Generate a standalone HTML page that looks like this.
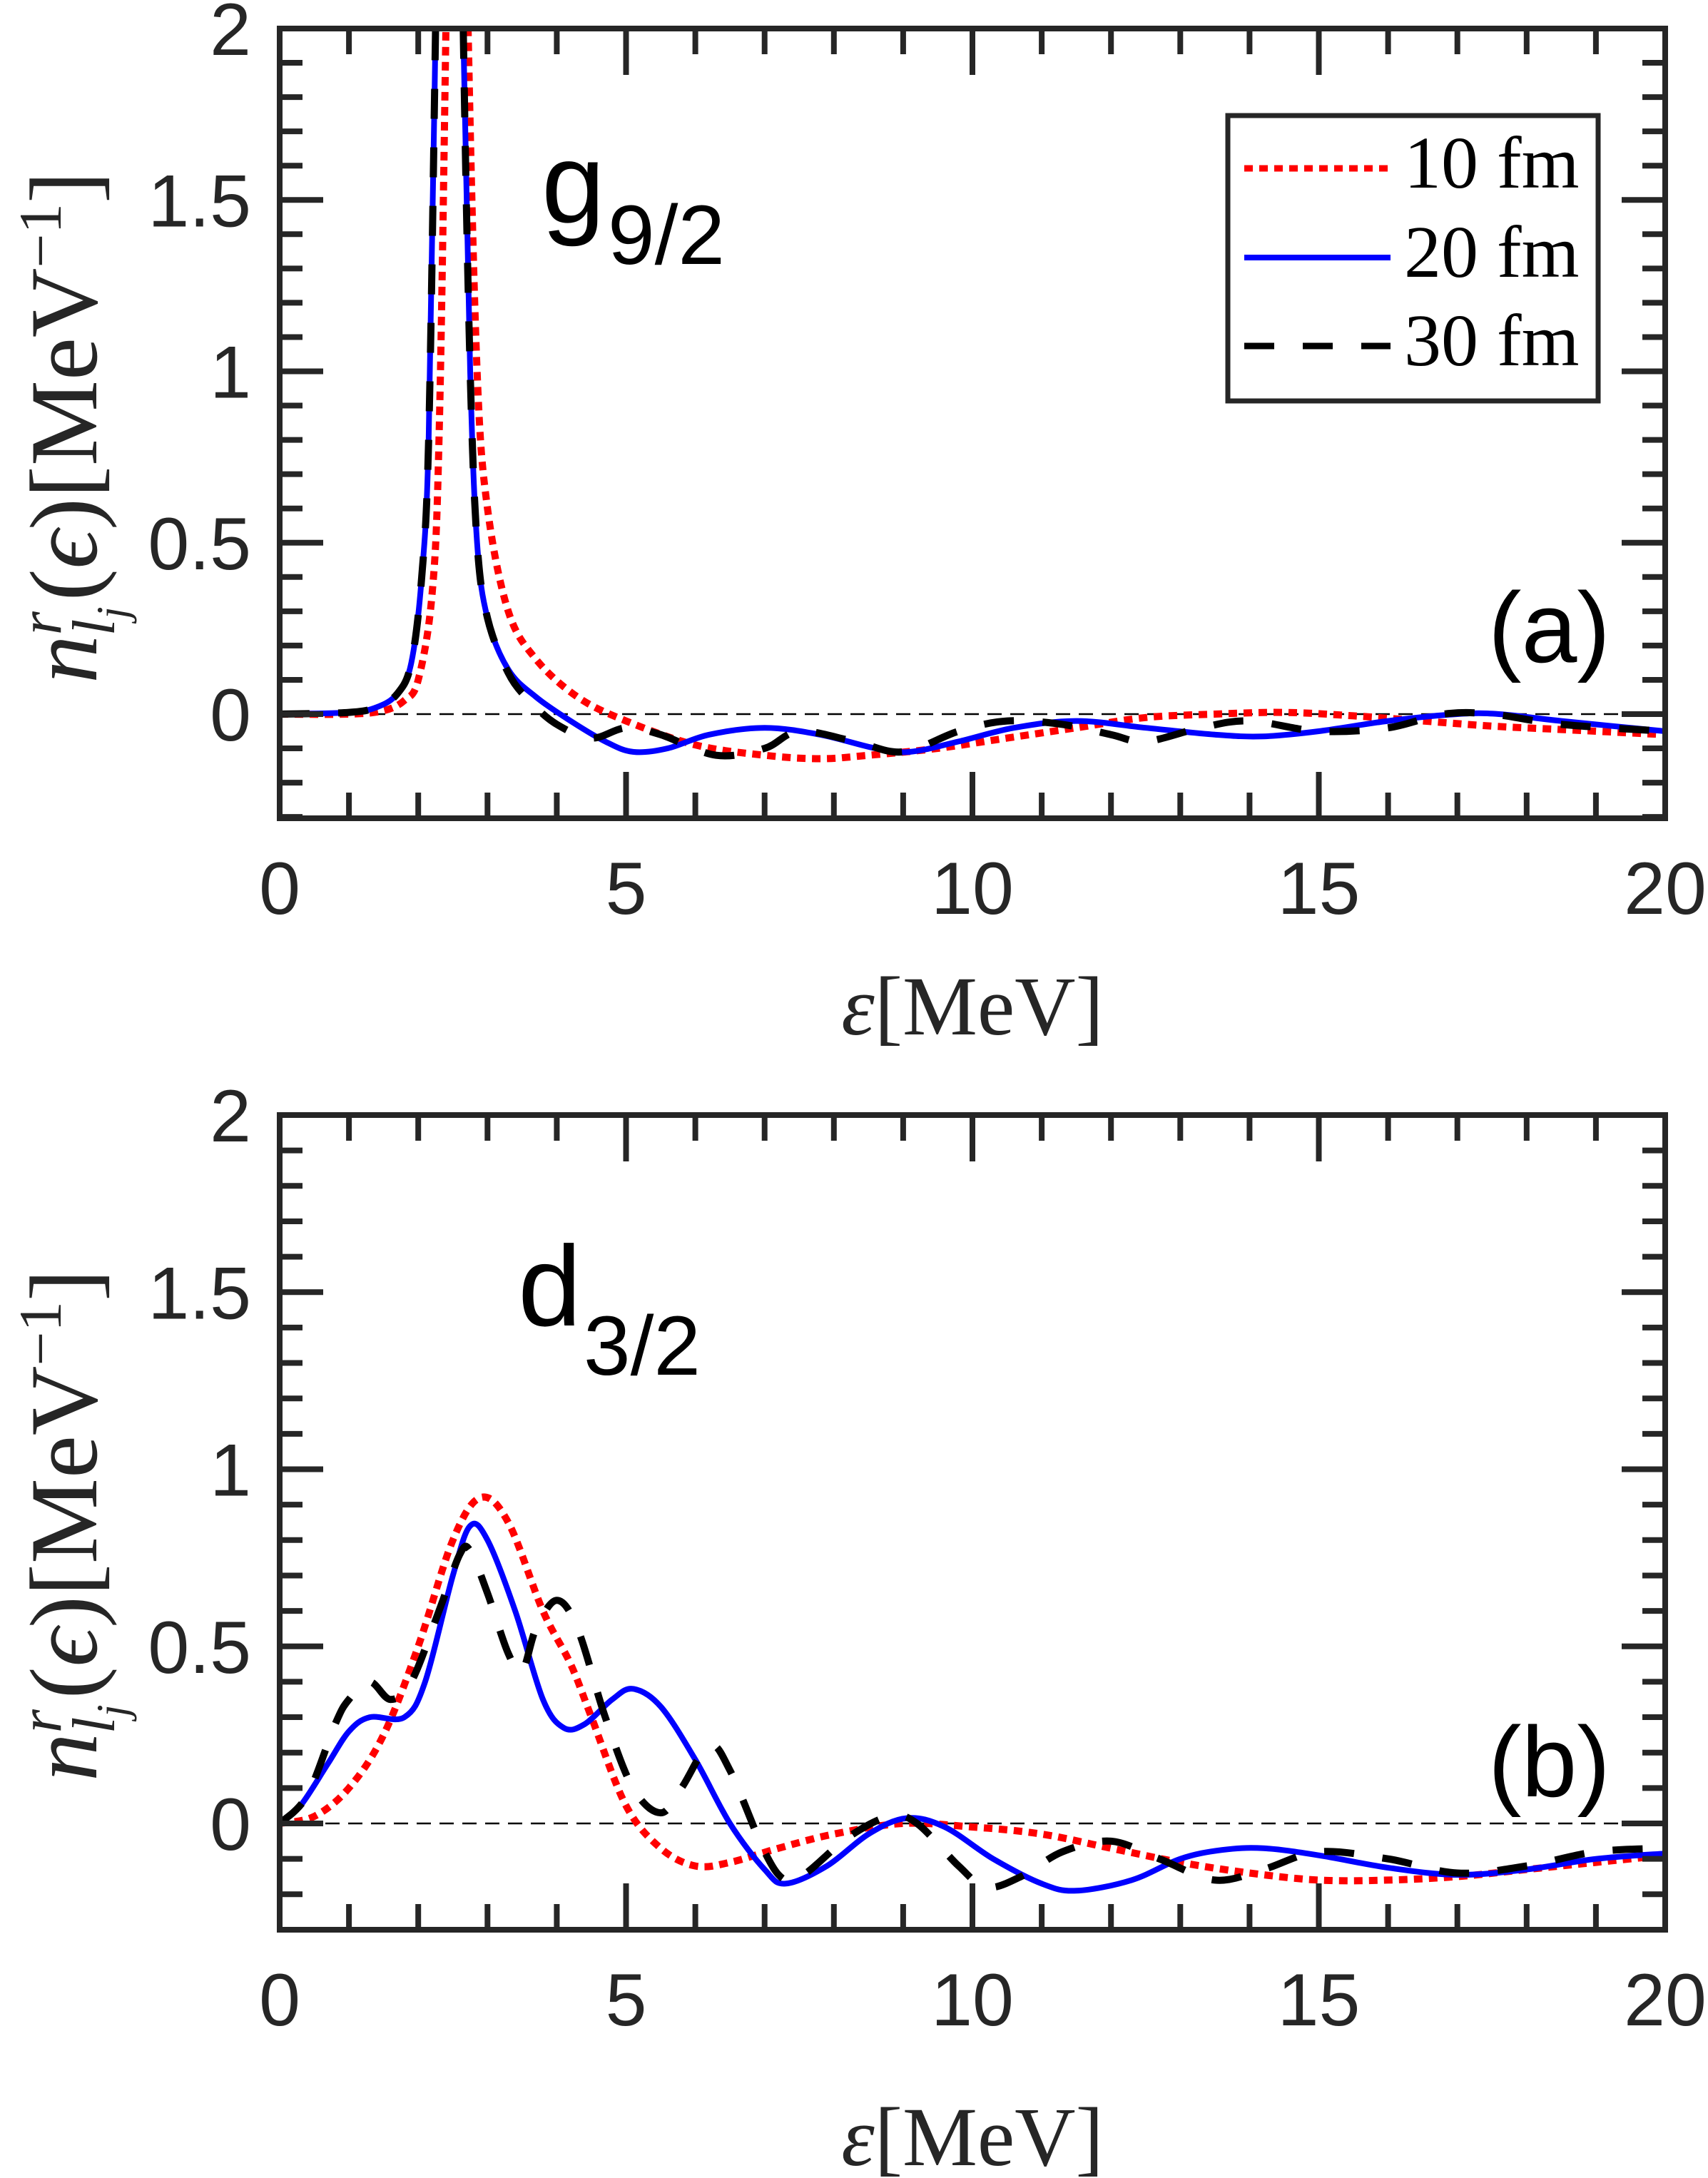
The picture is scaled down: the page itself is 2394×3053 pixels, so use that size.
<!DOCTYPE html>
<html><head><meta charset="utf-8"><style>
html,body{margin:0;padding:0;background:#fff;}
svg{display:block;}
.tk{font-family:"Liberation Sans",Arial,sans-serif;fill:#262626;}
.sr{font-family:"Liberation Serif","DejaVu Serif",serif;fill:#262626;}
</style></head><body>
<svg id="s" width="2394" height="3053" viewBox="0 0 2394 3053" xmlns="http://www.w3.org/2000/svg">
<defs>
<clipPath id="ca"><rect x="392" y="40" width="1942" height="1107"/></clipPath>
<clipPath id="cb"><rect x="392" y="1563" width="1942" height="1142"/></clipPath>
</defs>
<g id="g"></g>
<text class="tk" x="759" y="312" style="font-size:160px;fill:#000">g</text>
<text class="tk" x="852" y="370" style="font-size:118px;fill:#000">9/2</text>
<text class="tk" x="2257" y="928" text-anchor="end" style="font-size:140px;fill:#000">(a)</text>
<text class="tk" x="726" y="1858" style="font-size:160px;fill:#000">d</text>
<text class="tk" x="818" y="1927" style="font-size:118px;fill:#000">3/2</text>
<text class="tk" x="2257" y="2518" text-anchor="end" style="font-size:140px;fill:#000">(b)</text>
<rect x="1721" y="162" width="519" height="400" fill="#fff" stroke="#262626" stroke-width="7"/>
<line x1="1744" y1="236" x2="1949" y2="236" stroke="#f00" stroke-width="9" stroke-dasharray="12,9"/>
<line x1="1744" y1="361" x2="1949" y2="361" stroke="#00f" stroke-width="8"/>
<line x1="1744" y1="485" x2="1949" y2="485" stroke="#000" stroke-width="9" stroke-dasharray="42,40"/>
<text class="sr" x="1968" y="263" style="font-size:104px;fill:#000">10 fm</text>
<text class="sr" x="1968" y="388" style="font-size:104px;fill:#000">20 fm</text>
<text class="sr" x="1968" y="512" style="font-size:104px;fill:#000">30 fm</text>
</svg>
<script>
var NS="http://www.w3.org/2000/svg",G=document.getElementById('g');
function el(t,a,p){var e=document.createElementNS(NS,t);for(var k in a)e.setAttribute(k,a[k]);(p||G).appendChild(e);return e;}
var X0=392,X1=2334;function px(x){return X0+(x)/20*(X1-X0);}
function panel(top,zero,bot,clip,series,lab){
  var unit=(zero-top)/2;function py(y){return zero-y*unit;}
  el('line',{x1:X0,y1:zero,x2:X1,y2:zero,stroke:'#000','stroke-width':2.5,'stroke-dasharray':'20,12'});
  var g=el('g',{'clip-path':'url(#'+clip+')'});
  series.forEach(function(s){
    var pts=s.pts.map(function(q){return [px(q[0]),py(q[1])];});
    var d='M'+pts[0][0]+','+pts[0][1];
    for(var i=0;i<pts.length-1;i++){
      var p0=pts[i-1]||pts[i],p1=pts[i],p2=pts[i+1],p3=pts[i+2]||p2;
      var c1=[p1[0]+(p2[0]-p0[0])/6,p1[1]+(p2[1]-p0[1])/6],c2=[p2[0]-(p3[0]-p1[0])/6,p2[1]-(p3[1]-p1[1])/6];
      d+='C'+c1[0].toFixed(1)+','+c1[1].toFixed(1)+' '+c2[0].toFixed(1)+','+c2[1].toFixed(1)+' '+p2[0].toFixed(1)+','+p2[1].toFixed(1);
    }
    var a={d:d,fill:'none',stroke:s.c,'stroke-width':s.w,'stroke-linejoin':'round'};
    if(s.da)a['stroke-dasharray']=s.da;
    el('path',a,g);
  });
  el('rect',{x:X0,y:top,width:X1-X0,height:bot-top,fill:'none',stroke:'#262626','stroke-width':8});
  for(var i=0;i<=20;i++){var x=px(i),L=(i%5==0)?65:36;
    el('line',{x1:x,y1:bot,x2:x,y2:bot-L,stroke:'#262626','stroke-width':8});
    el('line',{x1:x,y1:top,x2:x,y2:top+L,stroke:'#262626','stroke-width':8});
    if(i%5==0){var t=el('text',{x:x,y:bot+134,'class':'tk','text-anchor':'middle',style:'font-size:104px'});t.textContent=i;}
  }
  for(var j=-3;j<=20;j++){var y=py(j/10),L=(j%5==0)?61:32;
    el('line',{x1:X0,y1:y,x2:X0+L,y2:y,stroke:'#262626','stroke-width':8});
    el('line',{x1:X1,y1:y,x2:X1-L,y2:y,stroke:'#262626','stroke-width':8});
    if(j>=0&&j%5==0){var t=el('text',{x:352,y:y+37,'class':'tk','text-anchor':'end',style:'font-size:104px'});t.textContent=(j==0?'0':(j%10==0?j/10:(j/10).toFixed(1)));}
  }
  var t=el('text',{x:px(10),y:lab.xl,'class':'sr','text-anchor':'middle',style:'font-size:118px'});
  t.innerHTML='<tspan font-style="italic">ε</tspan>[MeV]';
  var ty=el('text',{transform:'translate(135,'+lab.yc+') rotate(-90)','class':'sr','text-anchor':'middle',style:'font-size:135px'});
  ty.innerHTML='<tspan font-style="italic">n</tspan><tspan font-size="85" dy="-50" font-style="italic">r</tspan><tspan font-size="85" dy="75" dx="-34" font-style="italic">l</tspan><tspan font-size="62" dy="18" font-style="italic">j</tspan><tspan dy="-43" dx="8">(</tspan><tspan font-style="italic">ϵ</tspan><tspan>)[MeV</tspan><tspan font-size="85" dy="-50">−1</tspan><tspan dy="50">]</tspan>';
}
var A_blue=[[0,0],[1,0.005],[1.4,0.02],[1.7,0.06],[1.9,0.15],[2.05,0.4],[2.15,0.8],[2.25,2.0],[2.35,3.5],[2.45,4],[2.55,3.5],[2.65,2.0],[2.75,1.0],[2.85,0.5],[3.0,0.28],[3.3,0.13],[3.7,0.05],[4.2,-0.02],[4.7,-0.08],[5.1,-0.11],[5.6,-0.1],[6.2,-0.06],[7,-0.04],[7.8,-0.06],[8.6,-0.1],[9.1,-0.11],[9.8,-0.08],[10.6,-0.04],[11.5,-0.02],[12.5,-0.04],[13.5,-0.06],[14.2,-0.065],[15,-0.05],[16,-0.02],[17,0.0],[17.6,0.0],[18.5,-0.02],[20,-0.05]];
var A_red=[[0,0],[1,0.0],[1.5,0.01],[1.8,0.04],[2.0,0.1],[2.2,0.35],[2.3,0.8],[2.4,2],[2.5,3.5],[2.6,3.5],[2.72,2],[2.85,1.0],[3.0,0.6],[3.3,0.3],[3.7,0.16],[4.3,0.05],[5,-0.02],[6,-0.09],[7,-0.12],[7.8,-0.13],[8.5,-0.12],[9.5,-0.1],[10.5,-0.07],[11.5,-0.04],[12.5,-0.01],[13.5,0.0],[14.5,0.005],[15.5,-0.005],[16.5,-0.02],[17.5,-0.035],[18.5,-0.045],[20,-0.06]];
var A_blk=[[0,0],[1,0.005],[1.4,0.02],[1.7,0.06],[1.9,0.15],[2.05,0.4],[2.15,0.8],[2.25,2.0],[2.35,3.5],[2.45,4],[2.55,3.5],[2.65,2.0],[2.75,1.0],[2.85,0.5],[3.0,0.28],[3.3,0.12],[3.6,0.04],[4.0,-0.03],[4.5,-0.07],[5.0,-0.04],[5.5,-0.06],[6.3,-0.12],[7.0,-0.1],[7.5,-0.05],[8.3,-0.08],[9.0,-0.11],[9.8,-0.05],[10.5,-0.02],[11.3,-0.03],[12,-0.06],[12.5,-0.08],[13.3,-0.04],[14,-0.02],[15,-0.05],[16,-0.04],[16.8,0.0],[17.5,0.0],[18.5,-0.03],[20,-0.05]];
var B_blue=[[0,0],[0.3,0.05],[0.7,0.17],[1.0,0.26],[1.3,0.3],[1.8,0.3],[2.1,0.4],[2.5,0.7],[2.75,0.84],[3.0,0.8],[3.4,0.6],[3.8,0.35],[4.1,0.27],[4.4,0.28],[4.8,0.35],[5.1,0.38],[5.5,0.33],[6,0.18],[6.5,0.0],[7.0,-0.13],[7.3,-0.17],[7.9,-0.12],[8.5,-0.03],[9.05,0.015],[9.6,-0.01],[10.3,-0.1],[11,-0.17],[11.5,-0.19],[12.3,-0.16],[13.0,-0.1],[13.6,-0.075],[14.2,-0.07],[15,-0.09],[16,-0.125],[17,-0.145],[18,-0.13],[19,-0.1],[20,-0.085]];
var B_red=[[0,0],[0.5,0.02],[1.0,0.1],[1.5,0.25],[2.0,0.5],[2.5,0.8],[2.9,0.92],[3.3,0.85],[3.8,0.6],[4.2,0.45],[4.5,0.3],[5,0.05],[5.5,-0.07],[6.0,-0.12],[6.5,-0.11],[7.2,-0.07],[8,-0.03],[9,0.0],[10,-0.01],[11,-0.03],[12,-0.07],[13,-0.11],[14,-0.14],[15,-0.16],[16,-0.16],[17,-0.15],[18,-0.13],[19,-0.11],[20,-0.09]];
var B_blk=[[0,0],[0.4,0.08],[0.8,0.28],[1.0,0.35],[1.3,0.4],[1.6,0.35],[1.9,0.4],[2.3,0.6],[2.6,0.76],[2.75,0.77],[3.0,0.65],[3.3,0.48],[3.5,0.43],[3.7,0.55],[4.0,0.63],[4.3,0.55],[4.7,0.3],[5.1,0.1],[5.5,0.03],[5.8,0.1],[6.2,0.22],[6.5,0.15],[7.0,-0.08],[7.3,-0.16],[7.6,-0.14],[8.2,-0.04],[8.8,0.02],[9.2,0.0],[9.8,-0.12],[10.2,-0.18],[10.7,-0.15],[11.3,-0.08],[12,-0.05],[12.7,-0.1],[13.5,-0.16],[14.2,-0.13],[15,-0.08],[16,-0.1],[17,-0.14],[18,-0.12],[19,-0.08],[20,-0.07]];
function S(r,b,k){return [{pts:r,c:'#f00',w:10,da:'12,9'},{pts:b,c:'#00f',w:8},{pts:k,c:'#000',w:10,da:'42,40'}];}
panel(40,1001,1147,'ca',S(A_red,A_blue,A_blk),{xl:1450,yc:599});
panel(1563,2556,2705,'cb',S(B_red,B_blue,B_blk),{xl:3035,yc:2138});
</script>
</body></html>
